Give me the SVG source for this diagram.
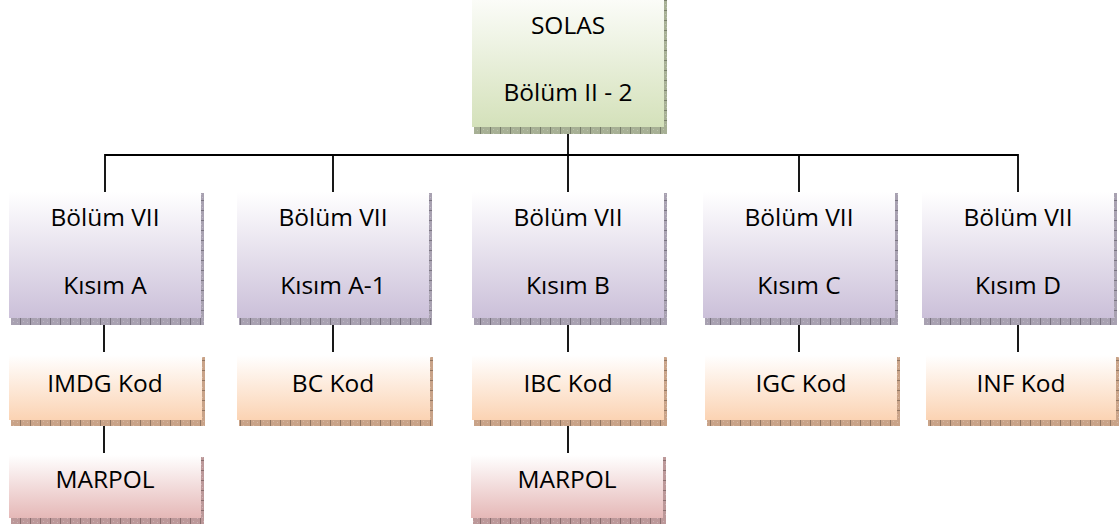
<svg xmlns="http://www.w3.org/2000/svg" width="1119" height="526" viewBox="0 0 1119 526">
  <defs>
    <linearGradient id="gGreen" x1="0" y1="0" x2="0" y2="1">
      <stop offset="0" stop-color="#fbfcf8"/>
      <stop offset="1" stop-color="#d4e1ba"/>
    </linearGradient>
    <linearGradient id="gPurple" x1="0" y1="0" x2="0" y2="1">
      <stop offset="0" stop-color="#ffffff"/>
      <stop offset="1" stop-color="#cbc0d9"/>
    </linearGradient>
    <linearGradient id="gOrange" x1="0" y1="0" x2="0" y2="1">
      <stop offset="0" stop-color="#ffffff"/>
      <stop offset="1" stop-color="#fbd3b3"/>
    </linearGradient>
    <linearGradient id="gPink" x1="0" y1="0" x2="0" y2="1">
      <stop offset="0" stop-color="#ffffff"/>
      <stop offset="1" stop-color="#e5b8b7"/>
    </linearGradient>
    <!-- tick texture for the hatched drop shadows -->
    <pattern id="tickV" width="10" height="4" patternUnits="userSpaceOnUse">
      <rect x="0" y="0" width="1" height="4" fill="#000" fill-opacity="0.28"/>
      <rect x="3" y="1" width="1" height="1" fill="#fff" fill-opacity="0.25"/>
      <rect x="7" y="2" width="1" height="1" fill="#fff" fill-opacity="0.25"/>
    </pattern>
    <pattern id="tickH" width="4" height="10" patternUnits="userSpaceOnUse">
      <rect x="0" y="0" width="4" height="1" fill="#000" fill-opacity="0.28"/>
      <rect x="1" y="4" width="1" height="1" fill="#fff" fill-opacity="0.25"/>
      <rect x="2" y="7" width="1" height="1" fill="#fff" fill-opacity="0.25"/>
    </pattern>
  </defs>
  <style>
    .lbl { font-family: "Open Sans", "Liberation Sans", sans-serif; font-size: 24.5px; fill: #000; text-anchor: middle; }
    .green .box { fill: url(#gGreen); }
    .green .sh { fill: #a7b095; }
    .purple .box { fill: url(#gPurple); }
    .purple .sh { fill: #a8a1b1; }
    .orange .box { fill: url(#gOrange); }
    .orange .sh { fill: #c9a388; }
    .pink .box { fill: url(#gPink); }
    .pink .sh { fill: #bc9899; }
    .tv { fill: url(#tickV); }
    .th { fill: url(#tickH); }
    .conn { stroke: #000; stroke-width: 1.8; fill: none; }
  </style>

  <rect width="1119" height="526" fill="#ffffff"/>

  <!-- connectors -->
  <g id="connectors" class="conn">
    <path d="M568 128 V155 M105 155 H1018 M105 154 V192 M333 154 V192 M568 154 V192 M799 154 V192 M1018 154 V192"/>
    <path d="M104 319 V352 M333 319 V352 M568 319 V352 M799 319 V352 M1018 319 V352"/>
    <path d="M104 421 V453 M568 421 V453"/>
  </g>

  <!-- top node -->
  <g id="n-solas" class="green">
    <rect class="sh" x="474" y="127" width="193" height="7"/>
    <rect class="tv" x="474" y="127" width="193" height="7"/>
    <rect class="sh" x="664" y="0" width="3" height="127"/>
    <rect class="th" x="664" y="0" width="3" height="127"/>
    <rect class="box" x="472" y="0" width="192" height="127"/>
    <text class="lbl" x="568" y="34">SOLAS</text>
    <text class="lbl" x="568" y="101">Bölüm II - 2</text>
  </g>

  <!-- second row: Bölüm VII parts -->
  <g id="n-kisim-a" class="purple">
    <rect class="sh" x="11" y="318" width="193" height="7"/>
    <rect class="tv" x="11" y="318" width="193" height="7"/>
    <rect class="sh" x="201" y="193" width="3" height="125"/>
    <rect class="th" x="201" y="193" width="3" height="125"/>
    <rect class="box" x="9" y="192" width="192" height="126"/>
    <text class="lbl" x="105" y="226">Bölüm VII</text>
    <text class="lbl" x="105" y="294">Kısım A</text>
  </g>
  <g id="n-kisim-a1" class="purple">
    <rect class="sh" x="239" y="318" width="193" height="7"/>
    <rect class="tv" x="239" y="318" width="193" height="7"/>
    <rect class="sh" x="429" y="193" width="3" height="125"/>
    <rect class="th" x="429" y="193" width="3" height="125"/>
    <rect class="box" x="237" y="192" width="192" height="126"/>
    <text class="lbl" x="333" y="226">Bölüm VII</text>
    <text class="lbl" x="333" y="294">Kısım A-1</text>
  </g>
  <g id="n-kisim-b" class="purple">
    <rect class="sh" x="474" y="318" width="193" height="7"/>
    <rect class="tv" x="474" y="318" width="193" height="7"/>
    <rect class="sh" x="664" y="193" width="3" height="125"/>
    <rect class="th" x="664" y="193" width="3" height="125"/>
    <rect class="box" x="472" y="192" width="192" height="126"/>
    <text class="lbl" x="568" y="226">Bölüm VII</text>
    <text class="lbl" x="568" y="294">Kısım B</text>
  </g>
  <g id="n-kisim-c" class="purple">
    <rect class="sh" x="705" y="318" width="193" height="7"/>
    <rect class="tv" x="705" y="318" width="193" height="7"/>
    <rect class="sh" x="895" y="193" width="3" height="125"/>
    <rect class="th" x="895" y="193" width="3" height="125"/>
    <rect class="box" x="703" y="192" width="192" height="126"/>
    <text class="lbl" x="799" y="226">Bölüm VII</text>
    <text class="lbl" x="799" y="294">Kısım C</text>
  </g>
  <g id="n-kisim-d" class="purple">
    <rect class="sh" x="924" y="318" width="193" height="7"/>
    <rect class="tv" x="924" y="318" width="193" height="7"/>
    <rect class="sh" x="1114" y="193" width="3" height="125"/>
    <rect class="th" x="1114" y="193" width="3" height="125"/>
    <rect class="box" x="922" y="192" width="192" height="126"/>
    <text class="lbl" x="1018" y="226">Bölüm VII</text>
    <text class="lbl" x="1018" y="294">Kısım D</text>
  </g>

  <!-- third row: codes -->
  <g id="n-imdg" class="orange">
    <rect class="sh" x="11" y="420" width="194" height="6"/>
    <rect class="tv" x="11" y="420" width="194" height="6"/>
    <rect class="sh" x="202" y="357" width="3" height="63"/>
    <rect class="th" x="202" y="357" width="3" height="63"/>
    <rect class="box" x="9" y="355" width="193" height="65"/>
    <text class="lbl" x="105" y="392">IMDG Kod</text>
  </g>
  <g id="n-bc" class="orange">
    <rect class="sh" x="239" y="420" width="194" height="6"/>
    <rect class="tv" x="239" y="420" width="194" height="6"/>
    <rect class="sh" x="430" y="357" width="3" height="63"/>
    <rect class="th" x="430" y="357" width="3" height="63"/>
    <rect class="box" x="237" y="355" width="193" height="65"/>
    <text class="lbl" x="333" y="392">BC Kod</text>
  </g>
  <g id="n-ibc" class="orange">
    <rect class="sh" x="474" y="420" width="193" height="6"/>
    <rect class="tv" x="474" y="420" width="193" height="6"/>
    <rect class="sh" x="664" y="357" width="3" height="63"/>
    <rect class="th" x="664" y="357" width="3" height="63"/>
    <rect class="box" x="472" y="355" width="192" height="65"/>
    <text class="lbl" x="568" y="392">IBC Kod</text>
  </g>
  <g id="n-igc" class="orange">
    <rect class="sh" x="707" y="420" width="193" height="6"/>
    <rect class="tv" x="707" y="420" width="193" height="6"/>
    <rect class="sh" x="897" y="357" width="3" height="63"/>
    <rect class="th" x="897" y="357" width="3" height="63"/>
    <rect class="box" x="705" y="355" width="192" height="65"/>
    <text class="lbl" x="801" y="392">IGC Kod</text>
  </g>
  <g id="n-inf" class="orange">
    <rect class="sh" x="928" y="420" width="191" height="6"/>
    <rect class="tv" x="928" y="420" width="191" height="6"/>
    <rect class="sh" x="1116" y="357" width="3" height="63"/>
    <rect class="th" x="1116" y="357" width="3" height="63"/>
    <rect class="box" x="926" y="355" width="190" height="65"/>
    <text class="lbl" x="1021" y="392">INF Kod</text>
  </g>

  <!-- fourth row: MARPOL -->
  <g id="n-marpol-1" class="pink">
    <rect class="sh" x="11" y="518" width="193" height="6"/>
    <rect class="tv" x="11" y="518" width="193" height="6"/>
    <rect class="sh" x="201" y="457" width="3" height="61"/>
    <rect class="th" x="201" y="457" width="3" height="61"/>
    <rect class="box" x="9" y="455" width="192" height="63"/>
    <text class="lbl" x="105" y="488">MARPOL</text>
  </g>
  <g id="n-marpol-2" class="pink">
    <rect class="sh" x="473" y="518" width="193" height="6"/>
    <rect class="tv" x="473" y="518" width="193" height="6"/>
    <rect class="sh" x="663" y="457" width="3" height="61"/>
    <rect class="th" x="663" y="457" width="3" height="61"/>
    <rect class="box" x="471" y="455" width="192" height="63"/>
    <text class="lbl" x="567" y="488">MARPOL</text>
  </g>
</svg>
